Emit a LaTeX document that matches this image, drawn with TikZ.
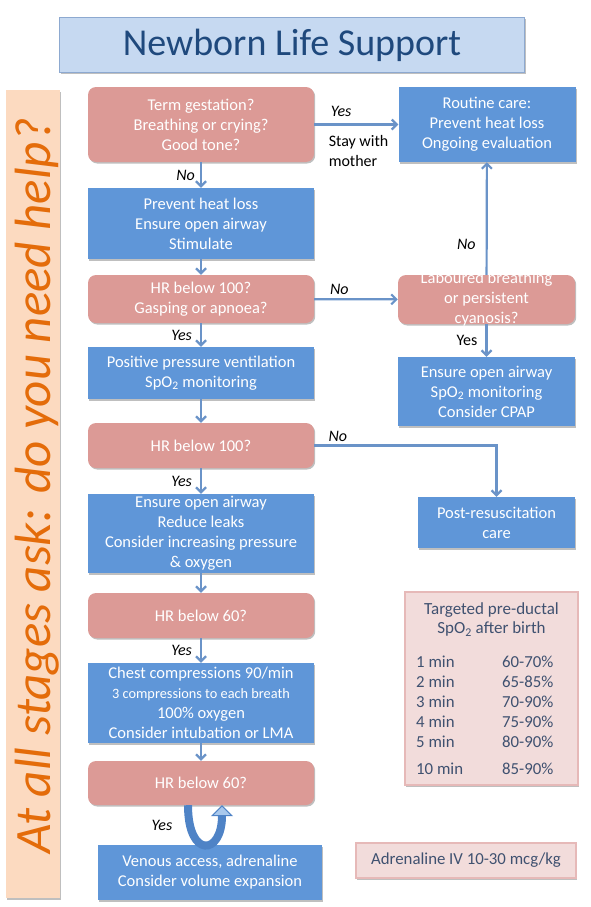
\documentclass[tikz,border=0pt]{standalone}
\usepackage{fontspec}
\setmainfont{Carlito}
\usetikzlibrary{arrows.meta,shadows}
\definecolor{nlsBlue}{HTML}{5F96D8}
\definecolor{nlsPink}{HTML}{DC9A96}
\definecolor{nlsLine}{HTML}{6A93C8}
\definecolor{nlsTitle}{HTML}{1F497D}
\definecolor{nlsTitleFill}{HTML}{C6D9F1}
\definecolor{nlsTitleDraw}{HTML}{8DA9D0}
\definecolor{nlsPeach}{HTML}{FCDAC0}
\definecolor{nlsOrange}{HTML}{E46C0A}
\definecolor{nlsRose}{HTML}{F2DCDB}
\definecolor{nlsRoseDraw}{HTML}{E6B9B8}
\definecolor{nlsSlate}{HTML}{3F5170}
\definecolor{nlsUturn}{HTML}{4F83C6}
\definecolor{nlsUtip}{HTML}{A9C8EC}
\begin{document}
\begin{tikzpicture}[x=1pt,y=-1pt,
  boxtext/.style={text=white,align=center,inner sep=0pt,font=\fontsize{16.5}{20}\selectfont},
  boxshadow/.style={drop shadow={shadow xshift=1.2pt,shadow yshift=-1.5pt,fill=black,opacity=.25}},
  action/.style={boxtext,rectangle,fill=nlsBlue,minimum width=226pt,boxshadow},
  question/.style={boxtext,rectangle,rounded corners=8pt,fill=nlsPink,minimum width=226pt,boxshadow},
  answer/.style={inner sep=0pt,text=black,font=\itshape\fontsize{16}{20}\selectfont},
  note/.style={inner sep=0pt,text=black,align=left,font=\fontsize{16}{20}\selectfont},
  rosebox/.style={rectangle,fill=nlsRose,draw=nlsRoseDraw,line width=1.5pt,boxshadow},
  flow/.style={nlsLine,line width=2.2pt,-{Straight Barb[length=5pt,width=10pt]}}]
\useasboundingbox (0,0) rectangle (590,907);
%%%%%%%%%%%%%%%%%%%%%%%%%%%%%%% Title and side bar
\node[rectangle, fill=nlsTitleFill, draw=nlsTitleDraw, line width=1pt, boxshadow,
  minimum width=465pt, minimum height=55pt](title) at (292,45){};
\node[text=nlsTitle, font=\fontsize{38}{44}\selectfont](titleText) at (title.center){Newborn Life Support};
\node[rectangle, fill=nlsPeach, boxshadow, minimum width=54pt, minimum height=808pt](helpBar) at (32.5,494){};
\node[rotate=90, text=nlsOrange, font=\itshape\fontsize{51}{56}\selectfont](helpText) at (37,486){At all stages ask: do you need help?};

%%%%%%%%%%%%%%%%%%%%%%%%%%%%%%% Main column
\node[question, minimum height=75pt](term) at (201,124.5){Term gestation?\\Breathing or crying?\\Good tone?};
\node[action, minimum width=177pt, minimum height=75pt](routine) at (487,124.5){Routine care:\\Prevent heat loss\\Ongoing evaluation};
\draw[flow] (term) -- node[answer,above=7pt,pos=.32]{Yes}
  node[note,anchor=north west,yshift=-10pt,pos=.16]{Stay with\\mother}(routine);

\node[action, minimum height=71pt](warm) at (201,223.5){Prevent heat loss\\Ensure open airway\\Stimulate};
\draw[flow] (term) -- node[answer,left=5pt]{No}(warm);

\node[question, minimum height=48pt](hrGasp) at (201,299){HR below 100?\\Gasping or apnoea?};
\draw[flow] (warm) -- (hrGasp);

\node[question, minimum width=177pt, minimum height=49pt](labour) at (486.5,299.5){};
\node[boxtext](labourText) at (labour.center){Laboured breathing\\or persistent\\cyanosis?};
\draw[flow] (hrGasp) -- node[answer,above=4pt,pos=.3]{No}(labour);
\draw[flow] (labour) -- node[answer,left=10pt,pos=.27]{No}(routine);

\node[action, minimum width=177pt, minimum height=69pt](cpap) at (486.5,391.5){Ensure open airway\\SpO\textsubscript{2} monitoring\\Consider CPAP};
\draw[flow] (labour) -- node[note,left=8pt]{Yes}(cpap);

\node[action, minimum height=52pt](ppv) at (201,373){Positive pressure ventilation\\SpO\textsubscript{2} monitoring};
\draw[flow] (hrGasp) -- node[answer,left=8pt]{Yes}(ppv);

\node[question, minimum height=45pt](hrHundred) at (201,445.5){HR below 100?};
\draw[flow] (ppv) -- (hrHundred);

\node[action, minimum width=157pt, minimum height=51pt](postCare) at (496.5,522.5){Post-resuscitation\\care};
\draw[flow] (hrHundred) -| node[answer,above=3pt,pos=.065]{No}(postCare);

\node[action, minimum height=79pt](leaks) at (201,533.5){Ensure open airway\\Reduce leaks\\Consider increasing pressure\\\& oxygen};
\draw[flow] (hrHundred) -- node[answer,left=8pt]{Yes}(leaks);

\node[question, minimum height=45pt](hrSixty) at (201,615.5){HR below 60?};
\draw[flow] (leaks) -- (hrSixty);

\node[action, minimum height=80pt](compress) at (201,703){Chest compressions 90/min\\{\fontsize{14.3}{18}\selectfont 3 compressions to each breath}\\100\% oxygen\\Consider intubation or LMA};
\draw[flow] (hrSixty) -- node[answer,left=8pt]{Yes}(compress);

\node[question, minimum height=44pt](hrSixtyB) at (201,783){HR below 60?};
\draw[flow] (compress) -- (hrSixtyB);

\node[action, minimum width=224pt, minimum height=55pt](venous) at (210,872.5){Venous access, adrenaline\\Consider volume expansion};
\draw[nlsUturn, line width=8pt, -{Triangle[length=11pt,width=22pt,line width=1pt,fill=nlsUtip]}]
  ([xshift=-13pt]hrSixtyB.south) .. controls +(0,54) and +(0,50) .. ([xshift=21pt]hrSixtyB.south);
\node[answer](yesLoop) at (162,825){Yes};

%%%%%%%%%%%%%%%%%%%%%%%%%%%%%%% Saturation targets and drug dose
\node[rosebox, minimum width=173pt, minimum height=193pt](satBox) at (491.5,688.5){};
\node[text=nlsSlate, align=center, inner sep=0pt, font=\fontsize{17}{19}\selectfont](satTitle) at (491.5,619.5){Targeted pre-ductal\\SpO\textsubscript{2} after birth};
\node[text=nlsSlate, anchor=west, inner sep=0pt, font=\fontsize{16.8}{20}\selectfont](satRows) at (416,717){%
\begin{tabular}{@{}p{86pt}@{}l@{}}
1 min & 60-70\%\\
2 min & 65-85\%\\
3 min & 70-90\%\\
4 min & 75-90\%\\
5 min & 80-90\%\\[7pt]
10 min & 85-90\%
\end{tabular}};
\node[rosebox, minimum width=220pt, minimum height=35pt, text=nlsSlate, font=\fontsize{16.8}{20}\selectfont](adrenaline) at (466,860.5){Adrenaline IV 10-30 mcg/kg};

\end{tikzpicture}
\end{document}
